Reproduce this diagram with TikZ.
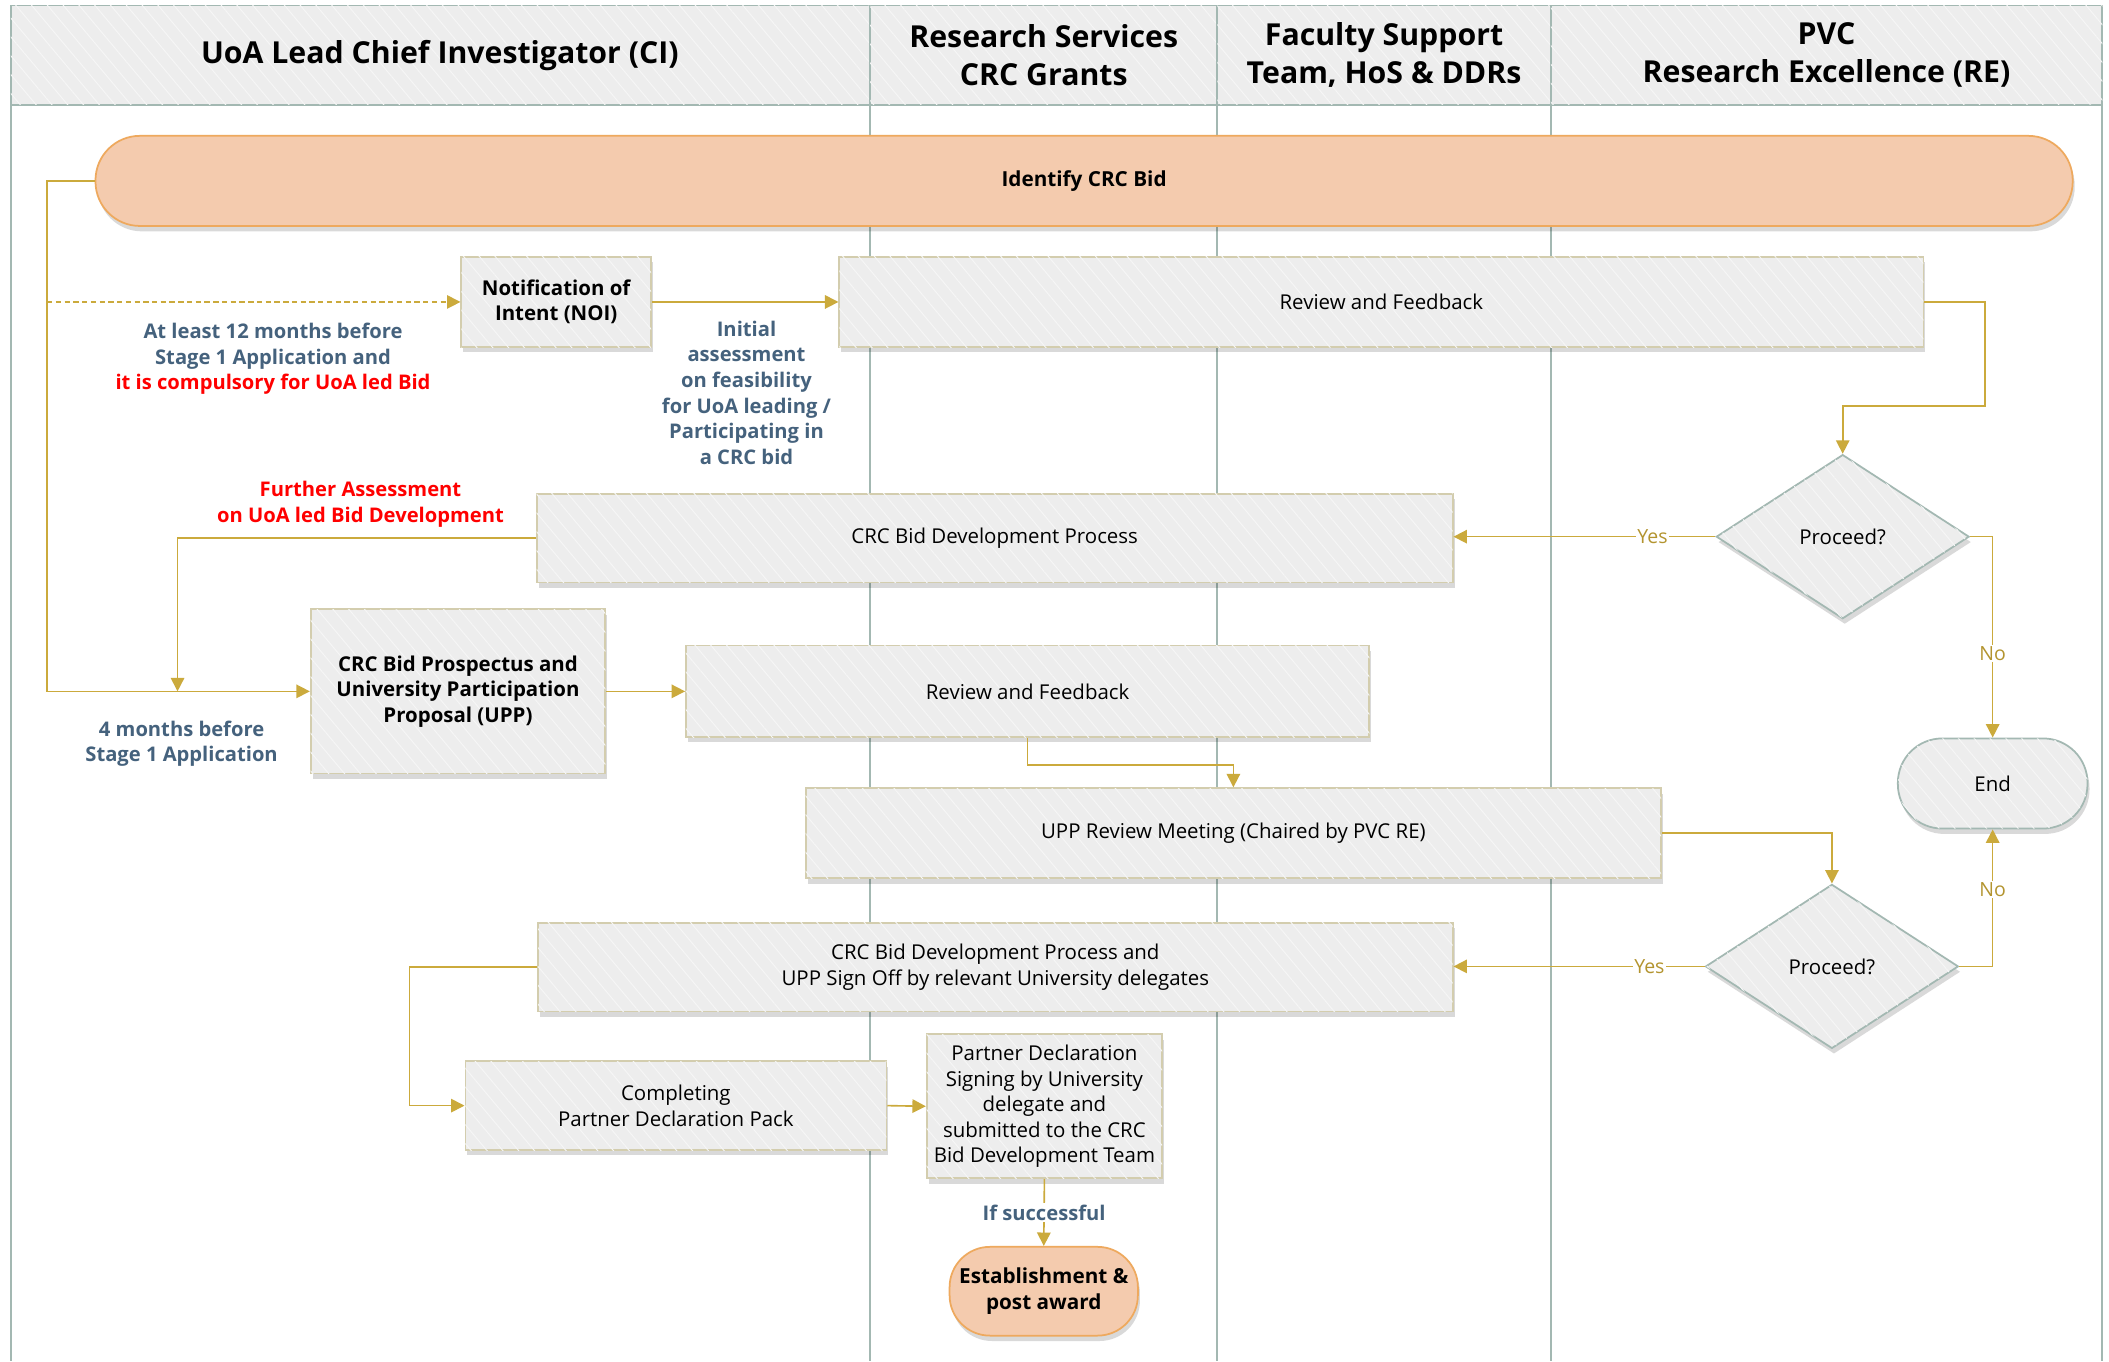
\documentclass[tikz,border=0pt]{standalone}
\usepackage{fontspec}
\setmainfont{Open Sans}
\usetikzlibrary{shapes.geometric,arrows.meta,shadows,patterns.meta,calc}
\definecolor{lanebd}{HTML}{A3B8B2}
\definecolor{hdrfill}{HTML}{EDEDED}
\definecolor{boxfill}{HTML}{EDEDED}
\definecolor{boxbd}{HTML}{D3CDAE}
\definecolor{gold}{HTML}{CBAA3C}
\definecolor{peach}{HTML}{F4CBAE}
\definecolor{peachbd}{HTML}{EEA95E}
\definecolor{bluegray}{HTML}{45627D}
\definecolor{redtxt}{HTML}{FF0000}
\definecolor{yesno}{HTML}{B3942F}
\definecolor{hatchc}{HTML}{F6F6F6}
\tikzset{
  hatch/.style={postaction={pattern={Lines[angle=-50,distance=9pt,line width=0.7pt]},pattern color=hatchc}},
  shad/.style={drop shadow={shadow xshift=1.5pt,shadow yshift=-4pt,opacity=0.15,fill=black}},
  hdrcell/.style={draw=lanebd,line width=1.2pt,fill=hdrfill,hatch},
  hdrtxt/.style={font=\fontsize{22.5}{28}\selectfont\bfseries,align=center,text=black},
  box/.style={draw=boxbd,line width=1.3pt,fill=boxfill,shad,hatch,align=center,inner sep=0pt,
    font=\fontsize{15.2}{19}\selectfont},
  boldbox/.style={box,font=\fontsize{15.2}{19}\selectfont\bfseries},
  pill/.style={draw=peachbd,line width=1.3pt,fill=peach,shad,align=center,inner sep=0pt,
    rounded corners=33pt,font=\fontsize{15.4}{19}\selectfont\bfseries},
  endpill/.style={draw=lanebd,line width=1.3pt,fill=boxfill,shad,hatch,align=center,inner sep=0pt,
    rounded corners=33pt,font=\fontsize{15.2}{19}\selectfont},
  decision/.style={diamond,draw=lanebd,line width=1.3pt,fill=boxfill,shad,hatch,inner sep=0pt,
    shape aspect=1.54,minimum width=188pt,minimum height=122pt,font=\fontsize{15.2}{19}\selectfont},
  conn/.style={draw=gold,line width=1.2pt,-{Triangle[length=10pt,width=10pt]}},
  yn/.style={fill=white,inner sep=1pt,text=yesno,font=\fontsize{14.5}{19}\selectfont},
  note/.style={align=center,text=bluegray,font=\fontsize{15}{19}\selectfont\bfseries},
  rednote/.style={align=center,text=redtxt,font=\fontsize{15}{19}\selectfont\bfseries},
  lane/.style={draw=lanebd,line width=1.2pt}
}
\begin{document}
\begin{tikzpicture}[x=1pt,y=-1pt]
\useasboundingbox (0,0) rectangle (1568,1012);
\fill[white] (0,0) rectangle (1568,1012);
% lanes
\draw[lane] (8,4) -- (8,1012);
\draw[lane] (647,78) -- (647,1012);
\draw[lane] (905,78) -- (905,1012);
\draw[lane] (1153,78) -- (1153,1012);
\draw[lane] (1563,4) -- (1563,1012);
\path[hdrcell] (8,4) rectangle (647,78);
\path[hdrcell] (647,4) rectangle (905,78);
\path[hdrcell] (905,4) rectangle (1153,78);
\path[hdrcell] (1153,4) rectangle (1563,78);
\node[hdrtxt] (h1) at (327,41) {UoA Lead Chief Investigator (CI)};
\node[hdrtxt] (h2) at (776,41) {Research Services\\CRC Grants};
\node[hdrtxt] (h3) at (1029,41) {Faculty Support\\Team, HoS \& DDRs};
\node[hdrtxt] (h4) at (1358,41) {PVC\\Research Excellence (RE)};
% nodes
\node[pill,minimum width=1470pt,minimum height=67pt] (id) at (806,134.5) {Identify CRC Bid};
\node[boldbox,minimum width=141pt,minimum height=67pt] (noi) at (413.5,224.5) {Notification of\\Intent (NOI)};
\node[box,minimum width=806pt,minimum height=67pt] (rf1) at (1027,224.5) {Review and Feedback};
\node[decision] (d1) at (1370,399) {Proceed?};
\node[box,minimum width=681pt,minimum height=66pt] (bd1) at (739.5,400) {CRC Bid Development Process};
\node[endpill,minimum width=141pt,minimum height=67pt] (end) at (1481.5,582.5) {End};
\node[boldbox,minimum width=219pt,minimum height=122pt] (upp) at (340.5,514) {CRC Bid Prospectus and\\University Participation\\Proposal (UPP)};
\node[box,minimum width=508pt,minimum height=68pt] (rf2) at (764,514) {Review and Feedback};
\node[box,minimum width=636pt,minimum height=67pt] (uppr) at (917,619.5) {UPP Review Meeting (Chaired by PVC RE)};
\node[decision] (d2) at (1362,718.5) {Proceed?};
\node[box,minimum width=680pt,minimum height=66pt] (bd2) at (740,719) {CRC Bid Development Process and\\UPP Sign Off by relevant University delegates};
\node[box,minimum width=313pt,minimum height=66pt] (cmp) at (502.5,822) {Completing\\Partner Declaration Pack};
\node[box,minimum width=175pt,minimum height=107pt] (pd) at (776.5,822.5) {Partner Declaration\\Signing by University\\delegate and\\submitted to the CRC\\Bid Development Team};
\node[pill,minimum width=140pt,minimum height=66pt,rounded corners=30pt] (est) at (776,960) {Establishment \&\\post award};
% notes
\node[note] (n1) at (203,267) {At least 12 months before\\Stage 1 Application and\\\textcolor{redtxt}{it is compulsory for UoA led Bid}};
\node[note] (n2) at (555,292) {Initial\\assessment\\on feasibility\\for UoA leading /\\Participating in\\a CRC bid};
\node[rednote] (n3) at (268,375) {Further Assessment\\on UoA led Bid Development};
\node[note] (n4) at (135,553) {4 months before\\Stage 1 Application};
% connectors
\coordinate (j1) at (35,224.5);
\coordinate (j2) at (132,514);
\draw[conn] (id.west) -- (35,134.5) |- (upp.west);
\draw[conn,dash pattern=on 4pt off 2.5pt,line width=1pt] (j1) -- (noi.west);
\draw[conn] (noi.east) -- (rf1.west);
\draw[conn] (rf1.east) -| (1476,302) -| (d1.north);
\draw[conn] (d1.west) -- (d1.west -| bd1.east) node[yn,pos=0.24] {Yes};
\draw[conn] (d1.east) -| (end.north) node[yn,pos=0.79] {No};
\draw[conn] (bd1.west) -| (j2);
\draw[conn] (upp.east) -- (rf2.west);
\draw[conn] (rf2.south) -- ++(0,20) -| (uppr.north);
\draw[conn] (uppr.east) -| (d2.north);
\draw[conn] (d2.west) -- (d2.west -| bd2.east) node[yn,pos=0.22] {Yes};
\draw[conn] (d2.east) -| (end.south) node[yn,pos=0.78] {No};
\draw[conn] (bd2.west) -- ++(-95,0) |- (cmp.west);
\draw[conn] (cmp.east) -- (pd.west);
\draw[conn] (pd.south) -- (est.north) node[pos=0.5,fill=white,inner sep=1pt,text=bluegray,font=\fontsize{15}{19}\selectfont\bfseries] {If successful};
\end{tikzpicture}
\end{document}
